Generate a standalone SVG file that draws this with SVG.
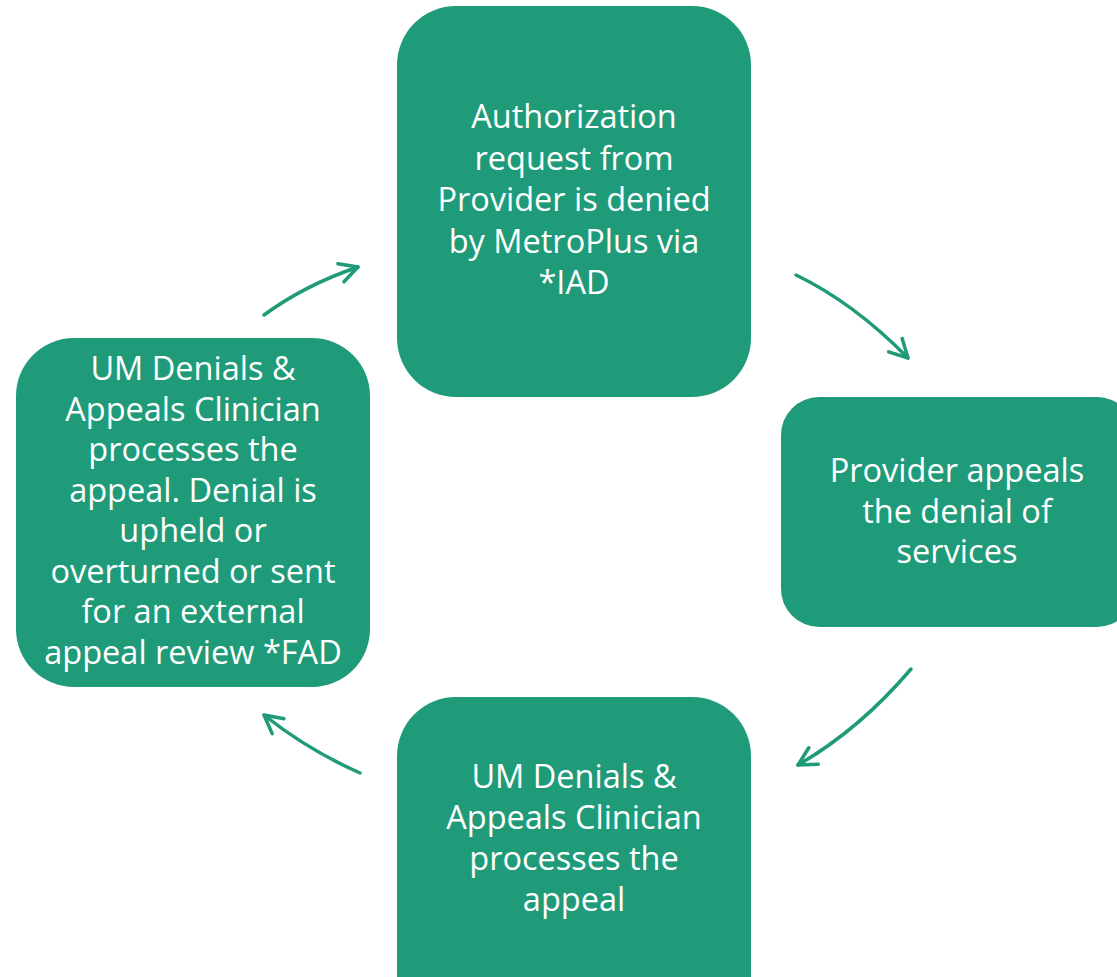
<svg xmlns="http://www.w3.org/2000/svg" width="1117" height="977" viewBox="0 0 1117 977">
  <style>
    .box { fill: #1f9b79; }
    .label { fill: #ffffff; font-family: "Open Sans", "Noto Sans", sans-serif; font-size: 32.5px; text-anchor: middle; }
    .flow { fill: none; stroke: #1f9b79; stroke-width: 3.5; stroke-linecap: round; marker-end: url(#chevron); }
  </style>
  <defs>
    <marker id="chevron" markerUnits="userSpaceOnUse" markerWidth="40" markerHeight="40" refX="0" refY="0" viewBox="-20 -20 40 40" orient="auto" overflow="visible">
      <path d="M-18,-9.5 L0,0 L-18,9.5" fill="none" stroke="#1f9b79" stroke-width="3.5" stroke-linecap="round" stroke-linejoin="round"/>
    </marker>
  </defs>
  <rect width="1117" height="977" fill="#ffffff"/>

  <!-- Step 1: initial denial -->
  <g id="node-denial">
    <rect class="box" x="397" y="6" width="354" height="391" rx="59" ry="59"/>
    <text class="label" x="574" y="128">Authorization</text>
    <text class="label" x="574" y="169.5">request from</text>
    <text class="label" x="574" y="211">Provider is denied</text>
    <text class="label" x="574" y="252.5">by MetroPlus via</text>
    <text class="label" x="574" y="294">*IAD</text>
  </g>

  <!-- Step 2: provider appeals -->
  <g id="node-provider-appeal">
    <rect class="box" x="781" y="397" width="354" height="230" rx="38" ry="38"/>
    <text class="label" x="957" y="482">Provider appeals</text>
    <text class="label" x="957" y="522.5">the denial of</text>
    <text class="label" x="957" y="563">services</text>
  </g>

  <!-- Step 3: clinician processes -->
  <g id="node-clinician">
    <rect class="box" x="397" y="697" width="354" height="391" rx="59" ry="59"/>
    <text class="label" x="574" y="788">UM Denials &amp;</text>
    <text class="label" x="574" y="829">Appeals Clinician</text>
    <text class="label" x="574" y="870">processes the</text>
    <text class="label" x="574" y="911">appeal</text>
  </g>

  <!-- Step 4: outcome -->
  <g id="node-outcome">
    <rect class="box" x="16" y="338" width="354" height="349" rx="58" ry="58"/>
    <text class="label" x="193" y="380">UM Denials &amp;</text>
    <text class="label" x="193" y="420.5">Appeals Clinician</text>
    <text class="label" x="193" y="461">processes the</text>
    <text class="label" x="193" y="501.5">appeal. Denial is</text>
    <text class="label" x="193" y="542">upheld or</text>
    <text class="label" x="193" y="582.5">overturned or sent</text>
    <text class="label" x="193" y="623">for an external</text>
    <text class="label" x="193" y="663.5">appeal review *FAD</text>
  </g>

  <!-- Cycle connectors -->
  <g id="connectors">
    <path class="flow" d="M264,315 Q305,285 358,267"/>
    <path class="flow" d="M796,275 Q854,303 908,358"/>
    <path class="flow" d="M911,669 Q860,729 798,765"/>
    <path class="flow" d="M360,773 Q308,750 264,715"/>
  </g>
</svg>
